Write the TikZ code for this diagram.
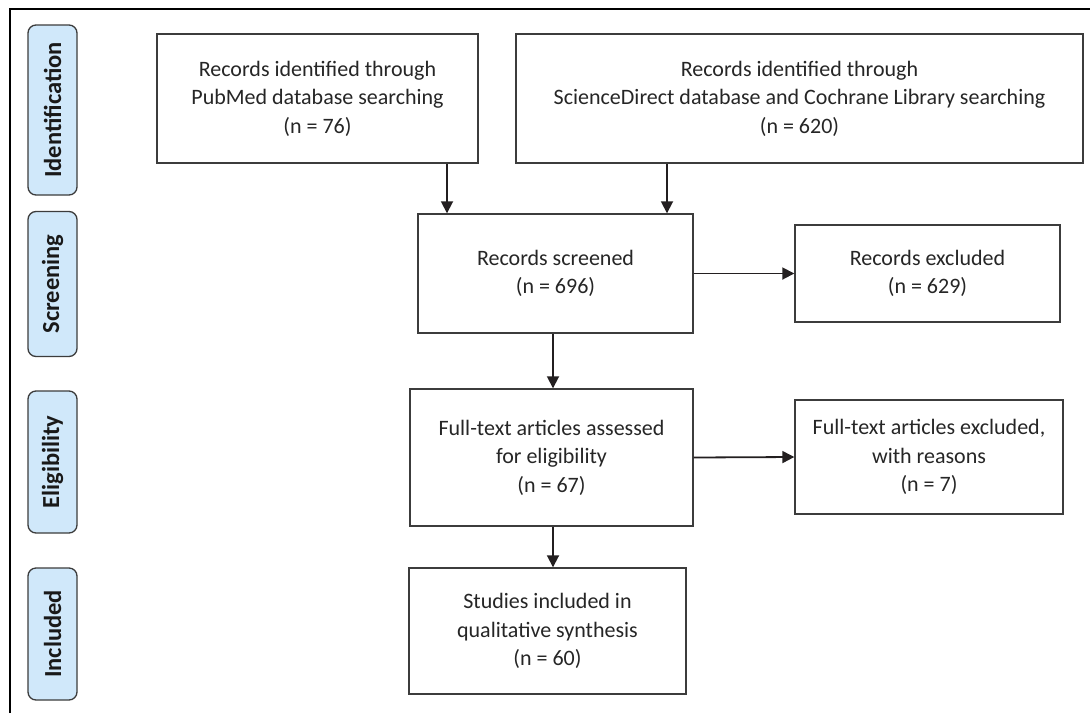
\documentclass[tikz,border=0pt]{standalone}
\usepackage{fontspec}
\setmainfont{Carlito}
\usetikzlibrary{arrows.meta,calc}
\definecolor{lblue}{RGB}{208,232,250}
\definecolor{boxline}{RGB}{60,60,60}
\definecolor{arrcol}{RGB}{35,31,32}
\begin{document}
\begin{tikzpicture}[x=1pt,y=-1pt,
  box/.style={draw=boxline,line width=1.4pt,rectangle,inner sep=0pt,align=center,
    font=\fontsize{22}{28.5}\selectfont,text=black!85},
  phase/.style={draw=boxline,line width=1.3pt,fill=lblue,rounded corners=8pt,inner sep=0pt,
    font=\bfseries\fontsize{24.5}{26}\selectfont,rotate=90,text=black!90},
  arr/.style={draw=arrcol,line width=1.8pt,-{Triangle[length=12pt,width=12pt]}}]
\useasboundingbox (0,0) rectangle (1090,713);
\fill[white] (0,0) rectangle (1090,713);
% frame
\draw[line width=2.2pt,black] (10,713) -- (10,9) -- (1090,9);
% phase labels
\node[phase,minimum width=170pt,minimum height=49pt] (pid) at (52.5,110) {Identification};
\node[phase,minimum width=145pt,minimum height=49pt] (psc) at (52.5,284) {Screening};
\node[phase,minimum width=142pt,minimum height=49pt] (pel) at (52.5,462) {Eligibility};
\node[phase,minimum width=132pt,minimum height=49pt] (pin) at (52.5,634) {Included};
% boxes
\node[box,minimum width=321pt,minimum height=129pt] (id1) at (317.5,98.5)
  {Records identified through\\PubMed database searching\\(n = 76)};
\node[box,minimum width=567pt,minimum height=129pt] (id2) at (799.5,98.5)
  {Records identified through\\ScienceDirect database and Cochrane Library searching\\(n = 620)};
\node[box,minimum width=275pt,minimum height=119pt] (scr) at (555.5,273.5)
  {Records screened\\(n = 696)};
\node[box,minimum width=265pt,minimum height=97pt] (exc) at (927.5,273.5)
  {Records excluded\\(n = 629)};
\node[box,minimum width=283pt,minimum height=137pt] (ft) at (551.5,457.5)
  {Full-text articles assessed\\for eligibility\\(n = 67)};
\node[box,minimum width=268pt,minimum height=114pt] (exc2) at (929,457)
  {Full-text articles excluded,\\with reasons\\(n = 7)};
\node[box,minimum width=277pt,minimum height=126pt] (inc) at (547.5,631)
  {Studies included in\\qualitative synthesis\\(n = 60)};
% arrows
\coordinate (a1) at (447,0);
\coordinate (a2) at (667,0);
\coordinate (a3) at (553,0);
\draw[arr] (id1.south -| a1) -- (scr.north -| a1);
\draw[arr] (id2.south -| a2) -- (scr.north -| a2);
\draw[arr] (scr.east) -- (exc.west);
\draw[arr] (scr.south -| a3) -- (ft.north -| a3);
\draw[arr] (ft.east) -- (exc2.west);
\draw[arr] (ft.south -| a3) -- (inc.north -| a3);
\end{tikzpicture}
\end{document}
